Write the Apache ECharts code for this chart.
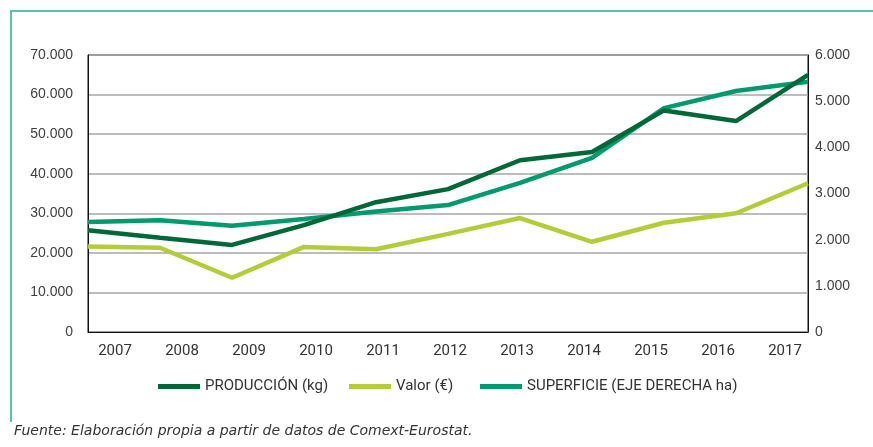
<!DOCTYPE html>
<html>
<head>
<meta charset="utf-8">
<script src="https://cdn.jsdelivr.net/npm/echarts@6/dist/echarts.min.js"></script>
<style>
html,body{margin:0;padding:0;background:#fff;}
#c{width:873px;height:447px;}
</style>
</head>
<body>
<div id="c"></div>
<script>
var years = ['2007','2008','2009','2010','2011','2012','2013','2014','2015','2016','2017'];
var produccion = [25700, 23800, 22000, 27000, 32800, 36100, 43400, 45500, 56000, 53300, 65000];
var valor = [21600, 21300, 13700, 21500, 20900, 24800, 28800, 22800, 27600, 30000, 37600];
var superficie = [2380, 2420, 2300, 2450, 2610, 2750, 3230, 3770, 4850, 5220, 5420];
var names = ['PRODUCCIÓN (kg)', 'Valor (€)', 'SUPERFICIE (EJE DERECHA ha)'];
var footnote = 'Fuente: Elaboración propia a partir de datos de Comext-Eurostat.';

function fmt(v){ return String(v).replace(/\B(?=(\d{3})+(?!\d))/g, '.'); }

var chart = echarts.init(document.getElementById('c'), null, {renderer:'canvas'});
var legendText = {fontFamily:'Roboto', fontSize:15, color:'#333'};
function leg(name, left){
  return {data:[name], left:left, top:379, icon:'rect', itemWidth:42, itemHeight:5, itemGap:4,
    textStyle:legendText, selectedMode:false, padding:0};
}
chart.setOption({
  animation:false,
  graphic:[
    {type:'polyline', shape:{points:[[11,422],[11,11],[880,11]]}, style:{fill:'none', stroke:'#5cc5a0', lineWidth:2}},
    {type:'text', left:14, top:424, style:{text:footnote, font:'italic 14px "DejaVu Sans"', fill:'#333'}}
  ],
  legend:[leg(names[0],158), leg(names[1],349), leg(names[2],480)],
  grid:[
    {left:88, right:65, top:55, bottom:115, show:true, borderColor:'#111', borderWidth:1},
    {left:81.5, right:54.5, top:55, bottom:115}
  ],
  xAxis:[
    {type:'category', data:years, boundaryGap:false, gridIndex:0,
     axisLine:{lineStyle:{color:'#111'}}, axisTick:{show:false}, axisLabel:{show:false}},
    {type:'category', data:years, boundaryGap:true, gridIndex:1,
     axisLine:{show:false}, axisTick:{show:false},
     axisLabel:{margin:12, fontFamily:'Roboto', fontSize:15, color:'#333'}}
  ],
  yAxis:[
    {type:'value', min:0, max:70000, interval:10000, gridIndex:0,
     axisLine:{show:true, lineStyle:{color:'#111'}}, axisTick:{show:false},
     splitLine:{lineStyle:{color:'#a6a6a6', width:1.5}},
     axisLabel:{margin:15, formatter:fmt, fontFamily:'Liberation Sans', fontSize:14, color:'#404040'}},
    {type:'value', min:0, max:6000, interval:1000, gridIndex:0, position:'right',
     axisLine:{show:true, lineStyle:{color:'#111'}}, axisTick:{show:false},
     splitLine:{show:false},
     axisLabel:{margin:7, formatter:fmt, fontFamily:'Liberation Sans', fontSize:14, color:'#404040'}},
    {type:'value', gridIndex:1, show:false}
  ],
  series:[
    {name:names[2], type:'line', data:superficie, xAxisIndex:0, yAxisIndex:1, symbol:'none',
     lineStyle:{color:'#009a6e', width:4.5}, itemStyle:{color:'#009a6e'}, z:2},
    {name:names[1], type:'line', data:valor, xAxisIndex:0, yAxisIndex:0, symbol:'none',
     lineStyle:{color:'#b5cc3a', width:4.5}, itemStyle:{color:'#b5cc3a'}, z:3},
    {name:names[0], type:'line', data:produccion, xAxisIndex:0, yAxisIndex:0, symbol:'none',
     lineStyle:{color:'#006838', width:4.5}, itemStyle:{color:'#006838'}, z:4}
  ]
});
</script>
</body>
</html>
